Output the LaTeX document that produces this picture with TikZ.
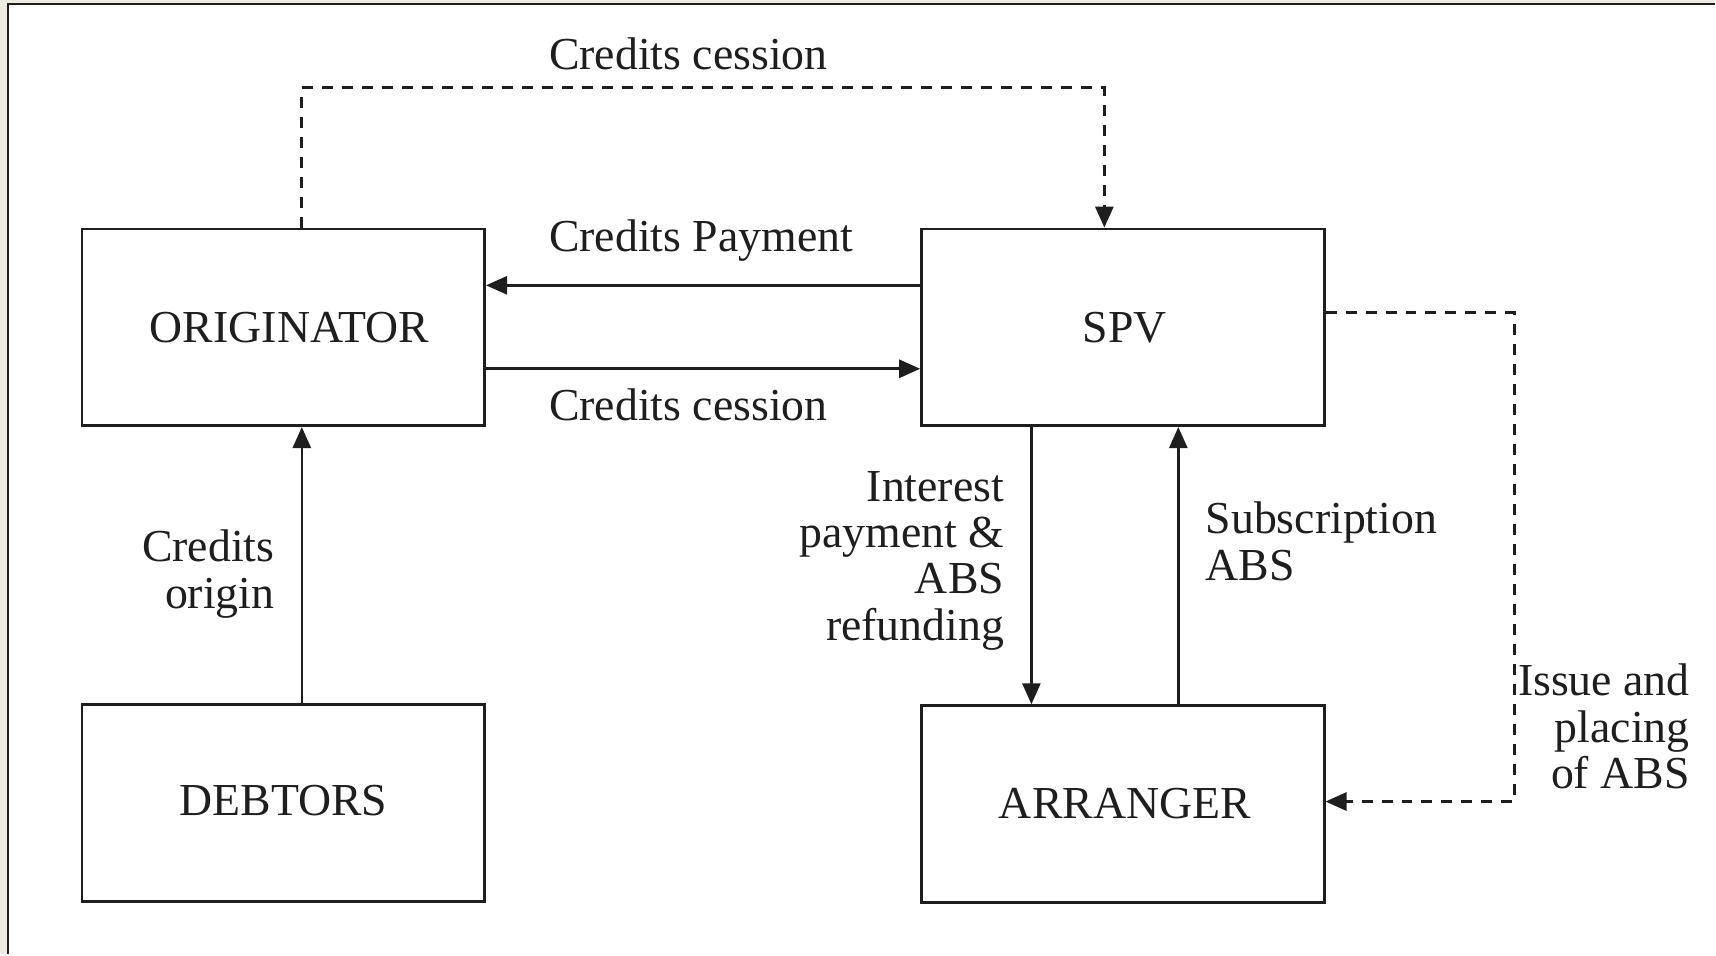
\documentclass[tikz,border=0pt]{standalone}
\usepackage{fontspec}
\setmainfont{Liberation Serif}
\usetikzlibrary{arrows.meta}
\definecolor{bggrey}{RGB}{237,235,228}
\definecolor{ink}{RGB}{30,30,30}
\newcommand\lblfont{\fontsize{22.9}{23.2}\selectfont}
\begin{document}
\begin{tikzpicture}[x=0.5pt,y=-0.5pt,
 box/.style={draw=ink, line width=1.3pt, minimum width=201.5pt, minimum height=98.5pt, inner sep=0pt, font=\lblfont, text=ink},
 lbl/.style={inner sep=0pt, font=\lblfont, text=ink},
 arr/.style={line width=1.3pt, draw=ink, -{Triangle[length=10.5pt,width=9pt]}},
 dsh/.style={arr, line width=1.5pt, dash pattern=on 5.5pt off 4.5pt}]
\fill[bggrey] (0,0) rectangle (1716,955);
\fill[white] (8,4) rectangle (1716,955);
\draw[line width=1pt, ink] (8.5,955) -- (8.5,4.5) -- (1716,4.5);
\useasboundingbox (0,0) rectangle (1716,955);

\node[box] (orig) at (283.5,327.5) {\hspace*{6pt}ORIGINATOR};
\node[box] (spv) at (1123.5,327.5) {\hspace*{2pt}SPV};
\node[box] (deb) at (283.5,803.5) {\raisebox{3pt}{DEBTORS}};
\node[box] (arr) at (1123.5,804.5) {\hspace*{2pt}ARRANGER};

\draw[arr] ([yshift=21pt]spv.west) -- ([yshift=21pt]orig.east);
\draw[arr] ([yshift=-20.75pt]orig.east) -- ([yshift=-20.75pt]spv.west);
\draw[dsh] ([xshift=9.25pt]orig.north) -- ++(0,-140) -| ([xshift=-9.25pt]spv.north);
\draw[dsh] ([yshift=7.25pt]spv.east) -- ++(189,0) |- ([yshift=1.25pt]arr.east);
\draw[arr] ([xshift=-45.75pt]spv.south) -- ([xshift=-45.75pt]arr.north);
\draw[arr] ([xshift=27.75pt]arr.north) -- ([xshift=27.75pt]spv.south);
\draw[arr] ([xshift=9.25pt]deb.north) -- ([xshift=9.25pt]orig.south);

\node[lbl, anchor=base west] (lcc1) at (549,70) {Credits cession};
\node[lbl, anchor=base west] (lcp) at (549,252) {Credits Payment};
\node[lbl, anchor=base west] (lcc2) at (549,421) {Credits cession};
\node[lbl, anchor=north east, align=right] (lco) at (275,530) {Credits\\origin};
\node[lbl, anchor=north east, align=right] (lip) at (1005,471) {Interest\\payment \&\\ABS\\refunding};
\node[lbl, anchor=north west, align=left] (lsa) at (1206,502) {Subscription\\ABS};
\node[lbl, anchor=north east, align=right] (lis) at (1691,664) {Issue and\\placing\\of ABS};
\end{tikzpicture}
\end{document}
